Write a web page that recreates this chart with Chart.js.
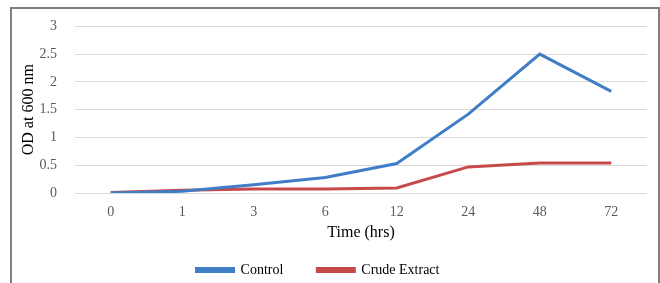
<!DOCTYPE html>
<html>
<head>
<meta charset="utf-8">
<script src="https://cdn.jsdelivr.net/npm/chart.js@4/dist/chart.umd.min.js"></script>
<style>
  html, body { margin: 0; padding: 0; background: #fff; }
  #wrap { position: relative; width: 660px; height: 283px; overflow: hidden; }
  #frame {
    position: absolute; left: 10px; top: 7px; width: 646px; height: 300px;
    border: 2px solid #7f7f7f; pointer-events: none;
  }
</style>
</head>
<body>
<div id="wrap">
  <canvas id="odChart" width="660" height="283"></canvas>
  <div id="frame"></div>
</div>
<script>
// time points (hrs), shown as categories
const timeLabels = ["0", "1", "3", "6", "12", "24", "48", "72"];
// OD at 600 nm
const controlOD = [0.0, 0.03, 0.15, 0.28, 0.53, 1.42, 2.5, 1.83];
const crudeExtractOD = [0.01, 0.05, 0.07, 0.07, 0.09, 0.47, 0.54, 0.54];
const yTicks = [0, 0.5, 1, 1.5, 2, 2.5, 3];

const serif = "'Liberation Serif', 'Times New Roman', serif";

// nudge the legend a bit left, like the original
const legendShift = {
  id: "legendShift",
  afterLayout(chart) {
    chart.legend.left -= 15;
    chart.legend.right -= 15;
  },
};

const ctx = document.getElementById("odChart").getContext("2d");
const chart = new Chart(ctx, {
  type: "line",
  data: {
    labels: timeLabels,
    datasets: [
      {
        label: "Control",
        data: controlOD,
        borderColor: "#3f7ec6",
        backgroundColor: "#3f7ec6",
        borderWidth: 3,
        pointRadius: 0,
        tension: 0,
      },
      {
        label: "Crude Extract",
        data: crudeExtractOD,
        borderColor: "#c64a4a",
        backgroundColor: "#c64a4a",
        borderWidth: 3,
        pointRadius: 0,
        tension: 0,
      },
    ],
  },
  plugins: [legendShift],
  options: {
    responsive: false,
    animation: false,
    layout: { padding: { left: 19, right: 13, top: 25, bottom: -4 } },
    plugins: {
      tooltip: { enabled: false },
      legend: {
        position: "bottom",
        labels: {
          boxWidth: 37,
          boxHeight: 3,
          padding: 34,
          color: "#000",
          font: { family: serif, size: 14 },
        },
      },
    },
    scales: {
      x: {
        offset: true,
        grid: { display: false },
        border: { display: false },
        ticks: { color: "#595959", font: { family: serif, size: 14 }, padding: 3 },
        title: {
          display: true,
          text: "Time (hrs)",
          color: "#000",
          font: { family: serif, size: 16 },
          padding: { top: -1, bottom: -13 },
        },
      },
      y: {
        min: 0,
        max: 3,
        afterBuildTicks: (axis) => {
          axis.ticks = yTicks.map(v => ({ value: v }));
        },
        afterFit: (axis) => { axis.width = 56; },
        grid: { color: "#d9d9d9", lineWidth: 1, drawTicks: false },
        border: { display: false },
        ticks: {
          color: "#595959",
          font: { family: serif, size: 14 },
          padding: 18,
          callback: (v) => String(v),
        },
        title: {
          display: true,
          text: "OD at 600 nm",
          color: "#000",
          font: { family: serif, size: 16 },
          padding: 0,
        },
      },
    },
  },
});
</script>
</body>
</html>
